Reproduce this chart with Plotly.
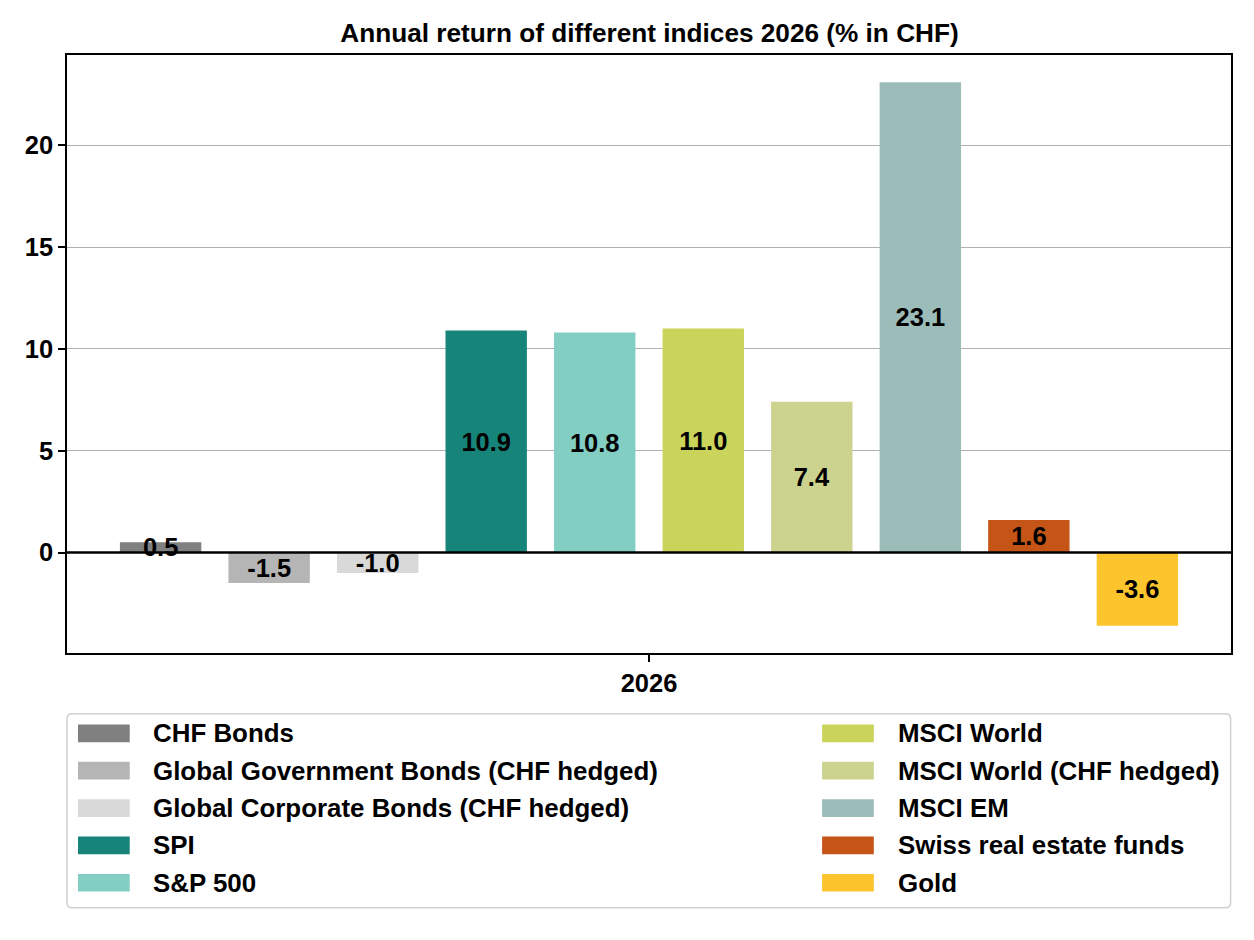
import plotly.graph_objects as go

# ---------------- data ----------------
year = "2026"
series_names = [
    "CHF Bonds",
    "Global Government Bonds (CHF hedged)",
    "Global Corporate Bonds (CHF hedged)",
    "SPI",
    "S&P 500",
    "MSCI World",
    "MSCI World (CHF hedged)",
    "MSCI EM",
    "Swiss real estate funds",
    "Gold",
]
series_values = [0.5, -1.5, -1.0, 10.9, 10.8, 11.0, 7.4, 23.1, 1.6, -3.6]
series_colors = [
    "#808080", "#b5b5b5", "#d9d9d9", "#17847a", "#83cec3",
    "#cbd45a", "#cbd38e", "#9cbcba", "#c45517", "#fcc42d",
]
y_ticks = [0, 5, 10, 15, 20]
title_text = "Annual return of different indices 2026 (% in CHF)"

# ---------------- layout geometry (pixels) ----------------
W, H = 1254, 940
L, R, T, B = 67.3, 1230.7, 55.0, 652.7
FONT = "Liberation Sans, Arial, sans-serif"
FS = 25.5       # tick labels and bar labels
FS_TITLE = 26.2
FS_LEG = 25.9

def px_x(px):
    return (px - L) / (R - L)

def px_y(py):
    return (B - py) / (B - T)

vmin, vmax = min(series_values), max(series_values)
span = vmax - vmin
y_range = [vmin - 0.05 * span, vmax + 0.05 * span]

fig = go.Figure()
for name, val, col in zip(series_names, series_values, series_colors):
    fig.add_trace(go.Bar(
        x=[year], y=[val], name=name,
        marker=dict(color=col, line=dict(width=0)),
        text=[f"{val:.1f}"],
        textposition="inside",
        insidetextanchor="middle",
        textangle=0,
        textfont=dict(family=FONT, size=FS, color="black", weight="bold"),
        cliponaxis=False,
        showlegend=False,
    ))

shapes = []
annotations = []

# zero line
shapes.append(dict(type="line", xref="paper", yref="y", x0=0, x1=1, y0=0, y1=0,
                   line=dict(color="black", width=2.6), layer="above"))

# ---------------- custom legend (matplotlib style) ----------------
bx0, by0, bx1, by1 = 67.3, 713.3, 1230.3, 907.3
rad = 5
def pt(x, y):
    return f"{px_x(x):.6f},{px_y(y):.6f}"
path = (
    f"M {pt(bx0 + rad, by0)} L {pt(bx1 - rad, by0)} Q {pt(bx1, by0)} {pt(bx1, by0 + rad)} "
    f"L {pt(bx1, by1 - rad)} Q {pt(bx1, by1)} {pt(bx1 - rad, by1)} "
    f"L {pt(bx0 + rad, by1)} Q {pt(bx0, by1)} {pt(bx0, by1 - rad)} "
    f"L {pt(bx0, by0 + rad)} Q {pt(bx0, by0)} {pt(bx0 + rad, by0)} Z"
)
shapes.append(dict(type="path", xref="paper", yref="paper", path=path,
                   line=dict(color="#d0d0d0", width=1.5), fillcolor="rgba(255,255,255,0.8)",
                   layer="below"))

col_x = [78.3, 822.0]
sw_w, sw_h = 51.7, 17.7
text_dx = 73.4
row_y0, row_dy = 733.0, 37.33
n_rows = 5
for i, (name, col) in enumerate(zip(series_names, series_colors)):
    c, r = divmod(i, n_rows)
    cx = col_x[c]
    cy = row_y0 + r * row_dy
    shapes.append(dict(type="rect", xref="paper", yref="paper",
                       x0=px_x(cx), x1=px_x(cx + sw_w),
                       y0=px_y(cy - sw_h / 2), y1=px_y(cy + sw_h / 2),
                       fillcolor=col, line=dict(width=0)))
    annotations.append(dict(xref="paper", yref="paper", x=px_x(cx + text_dx), y=px_y(cy),
                            text=name, showarrow=False, xanchor="left", yanchor="middle",
                            font=dict(family=FONT, size=FS_LEG, color="black", weight="bold")))

fig.update_layout(
    width=W, height=H, autosize=False,
    margin=dict(l=L, r=W - R, t=T, b=H - B, pad=0),
    paper_bgcolor="white", plot_bgcolor="white",
    barmode="group", bargap=0.0676, bargroupgap=0.25,
    uniformtext=dict(minsize=FS, mode="show"),
    title=dict(text=title_text, x=649.5 / W, xanchor="center",
               xref="container", y=1 - 33.0 / H, yanchor="middle", yref="container",
               font=dict(family=FONT, size=FS_TITLE, color="black", weight="bold")),
    font=dict(family=FONT, size=FS, color="black"),
    shapes=shapes, annotations=annotations,
    showlegend=False,
)
fig.update_xaxes(type="category", range=[-0.5, 0.5], showgrid=False,
                 showline=True, linecolor="black", linewidth=1.5, mirror=True,
                 ticks="outside", ticklen=7, tickwidth=1.5, tickcolor="black",
                 tickfont=dict(family=FONT, size=FS, color="black", weight="bold"))
fig.update_yaxes(range=y_range, tickvals=y_ticks, ticktext=[str(v) for v in y_ticks],
                 showgrid=True, gridcolor="#b0b0b0", gridwidth=1.3, zeroline=False,
                 showline=True, linecolor="black", linewidth=1.5, mirror=True,
                 ticks="outside", ticklen=7, tickwidth=1.5, tickcolor="black",
                 tickfont=dict(family=FONT, size=FS, color="black", weight="bold"))

fig.write_html("out.html")
